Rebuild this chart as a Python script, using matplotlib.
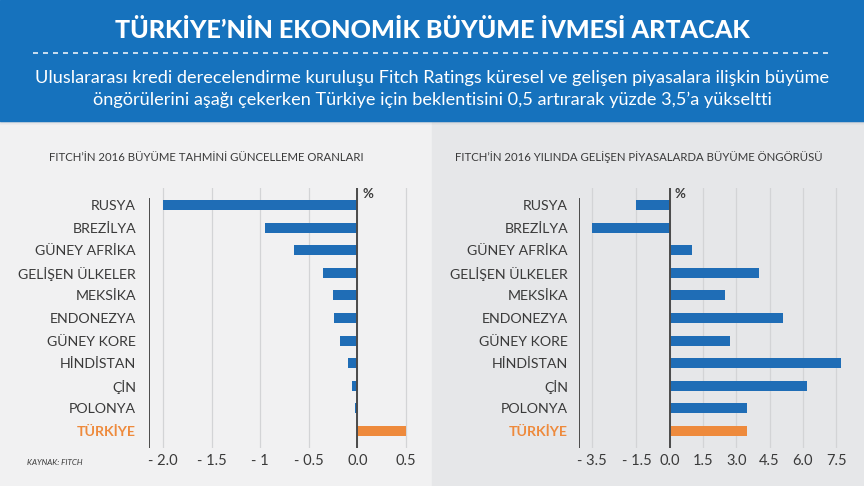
import matplotlib.pyplot as plt
from matplotlib.patches import Rectangle
from matplotlib.lines import Line2D

# Fitch 2016 growth revisions and forecasts for emerging markets
countries = ['RUSYA', 'BREZİLYA', 'GÜNEY AFRİKA', 'GELİŞEN ÜLKELER', 'MEKSİKA',
             'ENDONEZYA', 'GÜNEY KORE', 'HİNDİSTAN', 'ÇİN', 'POLONYA', 'TÜRKİYE']
revision = [-2.0, -0.95, -0.65, -0.35, -0.25, -0.24, -0.18, -0.1, -0.05, -0.02, 0.5]
growth = [-1.5, -3.5, 1.0, 4.0, 2.5, 5.1, 2.7, 7.7, 6.2, 3.5, 3.5]

left_ticks = [-2.0, -1.5, -1.0, -0.5, 0.0, 0.5]
left_ticklabels = ['- 2.0', '- 1.5', '- 1', '- 0.5', '0.0', '0.5']
right_ticks = [-3.5, -1.5, 0.0, 1.5, 3.0, 4.5, 6.0, 7.5]
right_ticklabels = ['- 3.5', '- 1.5', '0.0', '1.5', '3.0', '4.5', '6.0', '7.5']

title = 'TÜRKİYE’NİN EKONOMİK BÜYÜME İVMESİ ARTACAK'
subtitle = ('Uluslararası kredi derecelendirme kuruluşu Fitch Ratings küresel ve gelişen piyasalara ilişkin büyüme\n'
            'öngörülerini aşağı çekerken Türkiye için beklentisini 0,5 artırarak yüzde 3,5’a yükseltti')
left_title = 'FITCH’İN 2016 BÜYÜME TAHMİNİ GÜNCELLEME ORANLARI'
right_title = 'FITCH’İN 2016 YILINDA GELİŞEN PİYASALARDA BÜYÜME ÖNGÖRÜSÜ'

W, H = 864, 486
BLUE = '#1672bd'
BAR_BLUE = '#1f6db6'
ORANGE = '#ee8a3c'
TEXT = '#3a3a3a'

plt.rcParams['font.family'] = ['Lato', 'DejaVu Sans']


def fx(px):
    return px / W


def fy(py):
    return 1 - py / H


fig = plt.figure(figsize=(W / 100, H / 100), dpi=100)

# backgrounds, kept below the axes
fig.patches.append(Rectangle((0, 0), fx(432), fy(121), transform=fig.transFigure,
                             color='#f1f1f2', zorder=-3))
fig.patches.append(Rectangle((fx(432), 0), 1 - fx(432), fy(121), transform=fig.transFigure,
                             color='#e6e7e9', zorder=-3))
for i, a in enumerate([0.25, 0.15, 0.08, 0.04]):
    fig.patches.append(Rectangle((0, fy(122 + i)), 1, 1 / H, transform=fig.transFigure,
                                 color='#5a6a80', alpha=a, lw=0, zorder=-2))
fig.patches.append(Rectangle((0, fy(121)), 1, 121 / H, transform=fig.transFigure,
                             color=BLUE, zorder=-2))

# header
fig.text(0.5, fy(30), title, color='white', fontsize=18.1, fontweight='black',
         ha='center', va='center')
fig.lines.append(Line2D([fx(33), fx(832)], [fy(53), fy(53)], transform=fig.transFigure,
                        color='white', lw=1.2, ls=(0, (3, 3)), alpha=0.9))
fig.text(0.5, fy(89), subtitle, color='white', fontsize=13.1,
         ha='center', va='center', linespacing=1.38)

fig.text(fx(49), fy(157), left_title, color=TEXT, fontsize=8.2, va='center')
fig.text(fx(455), fy(157), right_title, color=TEXT, fontsize=8.2, va='center')
fig.text(fx(27), fy(462), 'KAYNAK: FITCH', color=TEXT, fontsize=5.8, style='italic',
         va='center')

ypos = list(range(len(countries)))
colors = [BAR_BLUE] * (len(countries) - 1) + [ORANGE]
row0, step = 205, 22.6
top, bottom = 188, 448


def panel(left_px, zero_px, scale, xmin, xmax, values, ticks, ticklabels, pct_x):
    right_px = zero_px + xmax * scale
    x0 = zero_px + xmin * scale
    ax = fig.add_axes([fx(x0), fy(bottom), (right_px - x0) / W, (bottom - top) / H])
    ax.set_facecolor('none')
    ax.barh(ypos, values, height=0.44, color=colors, zorder=3)
    ax.set_xlim(xmin, xmax)
    ax.set_ylim(10 + (bottom - (row0 + 10 * step)) / step, -(row0 - top) / step)
    for t in ticks:
        ax.axvline(t, color='#d3d4d6', lw=0.9, zorder=1)
    ax.axvline(0, color='#4a4a4a', lw=1.4, zorder=4)
    ax.axvline(xmin, ymin=0, ymax=(bottom - 199) / (bottom - top), color='#4a4a4a',
               lw=1.4, zorder=4)
    for s in ax.spines.values():
        s.set_visible(False)
    ax.set_xticks(ticks)
    ax.set_xticklabels(ticklabels, fontsize=10.5, color=TEXT)
    ax.set_yticks(ypos)
    ax.set_yticklabels(countries, fontsize=10.2, color=TEXT)
    ax.get_yticklabels()[-1].set_color(ORANGE)
    ax.get_yticklabels()[-1].set_fontweight('bold')
    ax.tick_params(axis='x', length=0, pad=4)
    ax.tick_params(axis='y', length=0, pad=(x0 - left_px) * 0.72)
    fig.text(fx(pct_x), fy(194), '%', color=TEXT, fontsize=9.5, fontweight='bold',
             ha='center', va='center')
    return ax


panel(136, 357.3, 97.0, -2.15, 0.58, revision, left_ticks, left_ticklabels, 368)
panel(568, 669.7, 22.2, -4.1, 7.9, growth, right_ticks, right_ticklabels, 680)

fig.savefig('out.png', dpi=100)
